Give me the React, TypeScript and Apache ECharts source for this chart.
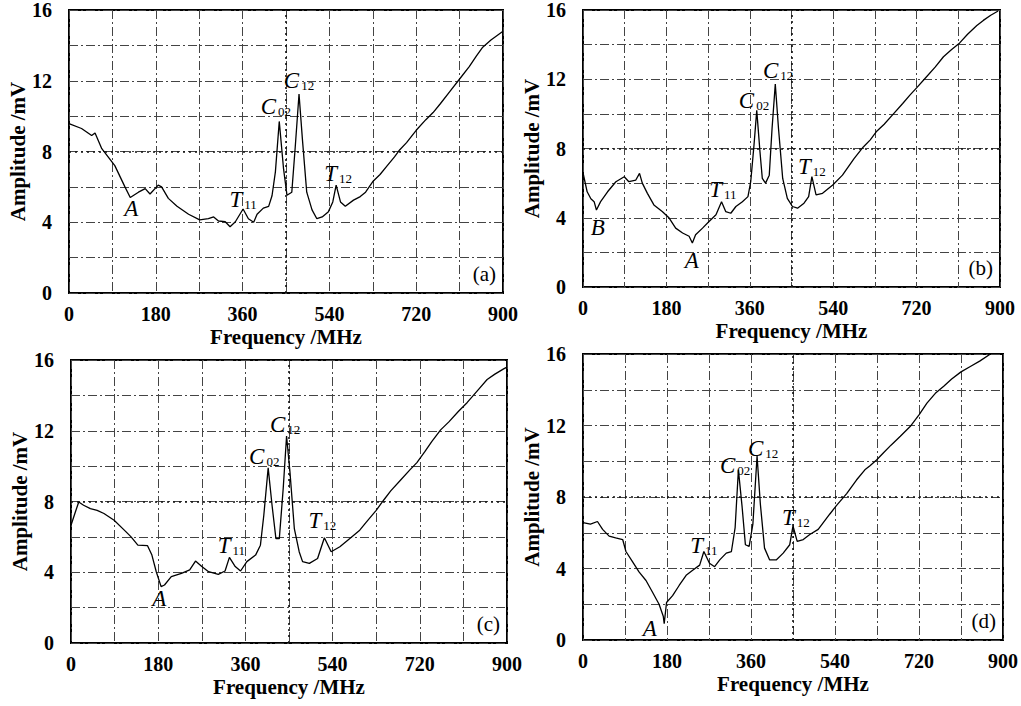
import React, { useEffect, useRef } from "react";
import * as echarts from "echarts";

// ---------- data ----------
const freqA = [0, 26, 47, 54, 68, 95, 116, 127, 144, 158, 168, 185, 192, 206, 224, 248, 271, 289, 300, 310, 324, 334, 345, 361, 372, 383, 390, 403, 414, 421, 428, 436, 445, 452, 462, 469, 477, 484, 493, 504, 514, 525, 538, 547, 554, 563, 573, 590, 604, 615, 630, 645, 660, 675, 686, 700, 720, 740, 755, 770, 790, 810, 830, 845, 858, 875, 890, 900];
const ampA = [9.57, 9.3, 8.9, 9.05, 8.16, 7.2, 6.0, 5.4, 5.7, 5.9, 5.6, 6.1, 6.0, 5.35, 4.9, 4.45, 4.13, 4.2, 4.3, 4.07, 4.03, 3.75, 4.03, 4.75, 4.2, 4.0, 4.45, 4.8, 4.9, 5.5, 6.85, 9.7, 7.0, 5.53, 5.7, 8.2, 11.25, 8.7, 5.7, 4.7, 4.2, 4.3, 4.6, 5.15, 6.1, 5.15, 4.9, 5.25, 5.45, 5.7, 6.3, 6.7, 7.2, 7.7, 8.1, 8.5, 9.2, 9.8, 10.2, 10.7, 11.4, 12.1, 12.8, 13.4, 13.9, 14.3, 14.6, 14.8];

const freqB = [0, 9, 17, 24, 29, 38, 53, 71, 89, 99, 114, 122, 128, 139, 153, 171, 186, 200, 215, 229, 236, 243, 258, 272, 287, 299, 308, 319, 330, 344, 356, 362, 369, 375, 382, 387, 394, 402, 408, 415, 422, 431, 441, 452, 463, 477, 487, 494, 503, 517, 539, 560, 585, 605, 620, 634, 650, 670, 690, 706, 720, 740, 760, 778, 795, 813, 830, 850, 864, 880, 896];
const ampB = [6.6, 5.5, 5.1, 4.93, 4.45, 4.93, 5.5, 6.08, 6.37, 6.08, 6.18, 6.56, 6.0, 5.41, 4.74, 4.36, 3.98, 3.4, 3.12, 2.93, 2.54, 3.02, 3.4, 3.78, 4.17, 4.93, 4.36, 4.26, 4.65, 4.93, 5.22, 6.08, 8.18, 10.2, 7.8, 6.27, 6.0, 6.46, 9.14, 11.72, 9.14, 6.27, 5.12, 4.65, 4.55, 4.84, 5.22, 6.37, 5.32, 5.41, 5.89, 6.46, 7.42, 8.09, 8.5, 9.0, 9.4, 10.0, 10.6, 11.1, 11.5, 12.1, 12.7, 13.3, 13.7, 14.1, 14.6, 15.1, 15.4, 15.7, 15.94];

const freqC = [0, 9, 16, 26, 40, 54, 68, 89, 110, 124, 138, 158, 167, 176, 186, 193, 207, 228, 245, 257, 270, 284, 304, 318, 327, 339, 350, 363, 381, 391, 398, 407, 415, 423, 430, 438, 445, 452, 461, 471, 478, 492, 509, 523, 537, 555, 575, 596, 610, 630, 646, 660, 680, 700, 714, 730, 745, 763, 780, 800, 818, 840, 859, 875, 893, 900];
const ampC = [6.66, 7.41, 7.97, 7.79, 7.6, 7.5, 7.32, 6.94, 6.38, 6.0, 5.53, 5.5, 4.97, 4.03, 3.19, 3.28, 3.75, 3.94, 4.13, 4.63, 4.32, 4.03, 3.88, 4.07, 4.84, 4.32, 4.07, 4.6, 4.97, 5.53, 7.22, 9.9, 7.79, 5.9, 5.9, 8.72, 11.7, 9.66, 6.47, 5.16, 4.6, 4.5, 4.78, 5.95, 5.16, 5.44, 5.9, 6.38, 6.85, 7.5, 8.1, 8.6, 9.2, 9.8, 10.2, 10.8, 11.4, 12.05, 12.5, 13.1, 13.6, 14.3, 14.9, 15.2, 15.5, 15.6];

const freqD = [0, 16, 31, 42, 56, 70, 85, 92, 106, 120, 135, 149, 163, 172, 174, 179, 192, 206, 221, 235, 250, 259, 271, 282, 293, 307, 318, 326, 333, 341, 348, 356, 364, 373, 380, 389, 400, 414, 429, 443, 450, 459, 472, 486, 504, 529, 543, 565, 586, 604, 615, 629, 645, 660, 680, 701, 720, 737, 755, 773, 790, 810, 830, 850, 873];
const ampD = [6.57, 6.48, 6.63, 6.19, 5.81, 5.71, 5.62, 4.95, 4.38, 3.81, 3.33, 2.67, 2.0, 1.33, 0.91, 2.1, 2.48, 3.05, 3.62, 3.9, 4.19, 4.95, 4.29, 4.1, 4.48, 4.86, 4.95, 6.29, 9.52, 7.43, 5.33, 5.24, 6.48, 10.29, 7.62, 5.14, 4.48, 4.48, 4.86, 5.33, 6.38, 5.52, 5.62, 5.9, 6.19, 7.05, 7.52, 8.19, 8.95, 9.52, 9.75, 10.07, 10.5, 10.9, 11.4, 11.94, 12.6, 13.25, 13.8, 14.2, 14.6, 15.0, 15.3, 15.6, 16.0];

// annotation texts: [main letter, subscript, frequency, amplitude]
const notesA: [string, string, number, number][] = [["A", "", 129, 4.75], ["T", "11", 361, 5.31], ["C", "02", 429, 10.57], ["C", "12", 477, 12.04], ["T", "12", 558, 6.73]];
const notesB: [string, string, number, number][] = [["B", "", 32, 3.43], ["A", "", 235, 1.54], ["T", "11", 302, 5.66], ["C", "02", 369, 10.8], ["C", "12", 421, 12.5], ["T", "12", 494, 6.97]];
const notesC: [string, string, number, number][] = [["A", "", 182, 2.52], ["T", "11", 331, 5.5], ["C", "02", 399, 10.53], ["C", "12", 442, 12.38], ["T", "12", 519, 6.9]];
const notesD: [string, string, number, number][] = [["A", "", 143, 0.67], ["T", "11", 259, 5.31], ["C", "02", 326, 9.79], ["C", "12", 386, 10.69], ["T", "12", 456, 6.88]];

const panelTags = ["(a)", "(b)", "(c)", "(d)"];
const xTicks = [0, 180, 360, 540, 720, 900];
const yTicks = [0, 4, 8, 12, 16];
const xName = "Frequency /MHz";
const yName = "Amplitude /mV";

// ---------- layout ----------
const SERIF = '"Liberation Serif", "Times New Roman", serif';
const grids = [
  { left: 69, top: 10, width: 434, height: 283 },
  { left: 583, top: 7, width: 417, height: 280 },
  { left: 71, top: 360, width: 436, height: 283 },
  { left: 583, top: 354, width: 420, height: 286 },
];

export default function App() {
  const ref = useRef<HTMLDivElement>(null);
  useEffect(() => {
    if (!ref.current) return;
    const chart = echarts.init(ref.current, null, { renderer: "svg" });
    const freqs = [freqA, freqB, freqC, freqD];
    const amps = [ampA, ampB, ampC, ampD];
    const notes = [notesA, notesB, notesC, notesD];

    const gridLine = { show: true, lineStyle: { color: "#444", width: 1, type: [9, 3, 2, 3] as any } };

    const xAxes = grids.map((_, i) => ({
      type: "value",
      gridIndex: i,
      min: 0,
      max: 900,
      interval: 90,
      axisLine: { show: false },
      axisTick: { show: false },
      splitLine: gridLine,
      axisLabel: {
        margin: 11,
        fontFamily: SERIF,
        fontWeight: "bold",
        fontSize: 20,
        color: "#000",
        formatter: (v: number) => (xTicks.includes(v) ? String(v) : ""),
      },
      name: xName,
      nameLocation: "middle",
      nameGap: 33,
      nameTextStyle: { fontFamily: SERIF, fontWeight: "bold", fontSize: 21, color: "#000" },
    }));
    const yAxes = grids.map((_, i) => ({
      type: "value",
      gridIndex: i,
      min: 0,
      max: 16,
      interval: 2,
      axisLine: { show: false },
      axisTick: { show: false },
      splitLine: gridLine,
      axisLabel: {
        margin: 17,
        fontFamily: SERIF,
        fontWeight: "bold",
        fontSize: 20,
        color: "#000",
        formatter: (v: number) => (yTicks.includes(v) ? String(v) : ""),
      },
      name: yName,
      nameLocation: "middle",
      nameGap: 40,
      nameTextStyle: { fontFamily: SERIF, fontWeight: "bold", fontSize: 21, color: "#000" },
    }));

    const rich = {
      m: { fontFamily: SERIF, fontStyle: "italic", fontSize: 23, color: "#000", lineHeight: 23, verticalAlign: "top" },
      s: { fontFamily: SERIF, fontSize: 13, color: "#000", lineHeight: 13, padding: [13, 0, 0, 2], verticalAlign: "bottom" },
    };

    const series = grids.map((_, i) => ({
      type: "line",
      xAxisIndex: i,
      yAxisIndex: i,
      showSymbol: false,
      symbol: "none",
      lineStyle: { color: "#000", width: 1.3 },
      data: freqs[i].map((f, k) => [f, amps[i][k]]),
      markLine: {
        silent: true,
        symbol: "none",
        label: { show: false },
        lineStyle: { color: "#111", width: 1.6, type: [2, 4] as any },
        data: [{ xAxis: 450 }, { yAxis: 8 }],
      },
      markPoint: {
        symbol: "circle",
        symbolSize: 1,
        itemStyle: { color: "rgba(0,0,0,0)" },
        label: { show: true, position: "inside", rich },
        data: notes[i].map(([m, s, f, v]) => ({
          coord: [f, v],
          label: { formatter: s ? `{m|${m}}{s|${s}}` : `{m|${m}}` },
        })),
      },
    }));

    chart.setOption({
      animation: false,
      backgroundColor: "#fff",
      grid: grids.map((g) => ({ ...g, show: true, borderColor: "#000", borderWidth: 2, backgroundColor: "transparent" })),
      xAxis: xAxes,
      yAxis: yAxes,
      series,
      graphic: grids.map((g, i) => ({
        type: "text",
        x: g.left + g.width - 7,
        y: g.top + g.height - 9,
        style: {
          text: panelTags[i],
          fontFamily: SERIF,
          fontSize: 21,
          fill: "#000",
          align: "right",
          verticalAlign: "bottom",
        },
      })),
    });
    return () => chart.dispose();
  }, []);
  return (
    <div
      ref={ref}
      style={{ position: "absolute", left: 0, top: 0, width: 1021, height: 706, background: "#fff" }}
    />
  );
}
